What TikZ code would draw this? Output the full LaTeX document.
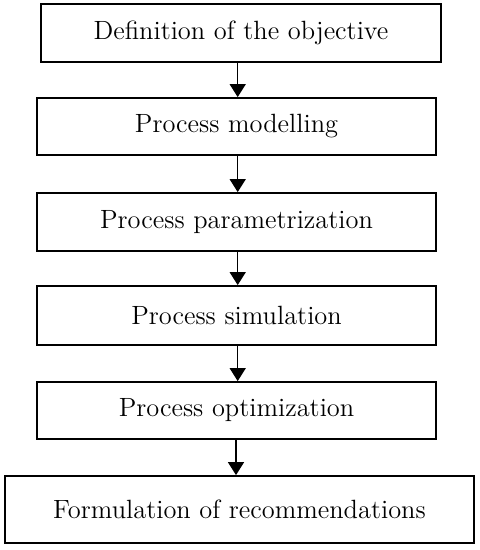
\documentclass[tikz,border=0pt]{standalone}
\usetikzlibrary{arrows.meta}
\begin{document}
\begin{tikzpicture}[x=0.5pt,y=-0.5pt,
  stepbox/.style={draw=black, line width=0.9pt, inner sep=0pt, font=\fontsize{13.2}{16}\selectfont},
  arr/.style={line width=0.75pt, -{Triangle[width=8pt,length=6.5pt]}}]
\useasboundingbox (0,0) rectangle (480,550);
\node[stepbox, minimum width=200pt, minimum height=29pt] (b1) at (241,33) {Definition of the objective};
\node[stepbox, minimum width=199.5pt, minimum height=28.5pt] (b2) at (236.5,126.5) {Process modelling};
\node[stepbox, minimum width=199.5pt, minimum height=29pt] (b3) at (236.5,222) {Process parametrization};
\node[stepbox, minimum width=199.5pt, minimum height=29.5pt] (b4) at (236.5,315.5) {Process simulation};
\node[stepbox, minimum width=199.5pt, minimum height=28.5pt] (b5) at (236.5,410.5) {Process optimization};
\node[stepbox, minimum width=234.5pt, minimum height=33.5pt] (b6) at (239.5,509.5) {Formulation of recommendations};
\coordinate (ax) at (237.7,0);
\coordinate (ay) at (236,0);
\draw[arr] (b1.south -| ax) -- (b2.north -| ax);
\draw[arr] (b2.south -| ax) -- (b3.north -| ax);
\draw[arr] (b3.south -| ax) -- (b4.north -| ax);
\draw[arr] (b4.south -| ax) -- (b5.north -| ax);
\draw[arr] (b5.south -| ay) -- (b6.north -| ay);
\end{tikzpicture}
\end{document}
